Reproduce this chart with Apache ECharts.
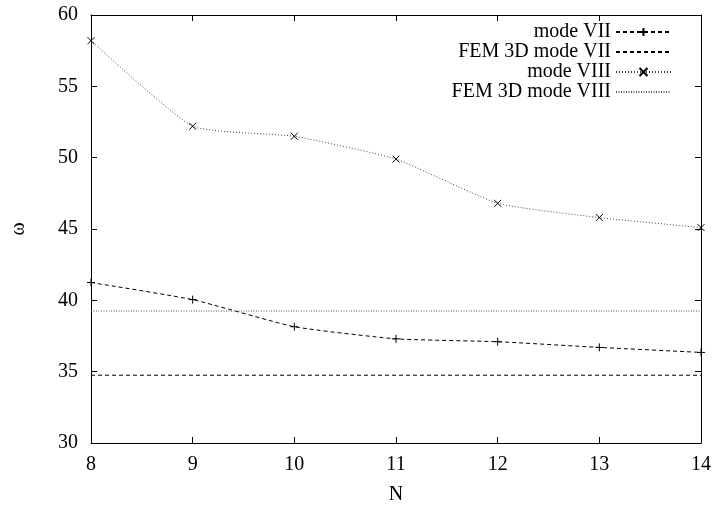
<!DOCTYPE html>
<html>
<head>
<meta charset="utf-8">
<script src="https://cdn.jsdelivr.net/npm/echarts@6/dist/echarts.min.js"></script>
<style>
  html, body { margin: 0; padding: 0; background: #fff; }
  #chart { width: 716px; height: 510px; }
</style>
</head>
<body>
<div id="chart"></div>
<script>
const nValues = [8, 9, 10, 11, 12, 13, 14];
const modeVII = [41.25, 40.05, 38.15, 37.3, 37.1, 36.7, 36.35];
const modeVIII = [58.2, 52.2, 51.5, 49.9, 46.8, 45.8, 45.1];
const femVII = 34.75;
const femVIII = 39.25;
const yTicks = [30, 35, 40, 45, 50, 55, 60];

const plusPath = 'path://M0,5L10,5M5,0L5,10';
const crossPath = 'path://M0,0L10,10M10,0L0,10';
const font = 'Liberation Serif, Times New Roman, serif';

const chart = echarts.init(document.getElementById('chart'));

const pairs = arr => nValues.map((n, i) => [n, arr[i]]);
const flat = v => [[nValues[0], v], [nValues[nValues.length - 1], v]];

const tickSide = {
  show: true,
  inside: true,
  length: 6,
  lineStyle: { color: '#000', width: 1 }
};

const option = {
  animation: false,
  grid: { left: 91, right: 15, top: 15, bottom: 65 },
  legend: {
    orient: 'vertical',
    right: 39,
    top: 17,
    align: 'right',
    itemWidth: 55,
    itemHeight: 10,
    itemGap: 0,
    textStyle: { fontFamily: font, fontSize: 20, color: '#000', lineHeight: 20 },
    data: ['mode VII', 'FEM 3D mode VII', 'mode VIII', 'FEM 3D mode VIII']
  },
  xAxis: [
    {
      type: 'value',
      min: 8,
      max: 14,
      interval: 1,
      name: 'N',
      nameLocation: 'middle',
      nameGap: 42,
      nameTextStyle: { fontFamily: font, fontSize: 20, color: '#000' },
      axisLine: { show: true, lineStyle: { color: '#000', width: 1 } },
      axisTick: tickSide,
      axisLabel: { fontFamily: font, fontSize: 20, color: '#000', margin: 12 },
      splitLine: { show: false }
    },
    {
      type: 'value',
      position: 'top',
      min: 8,
      max: 14,
      interval: 1,
      axisLine: { show: true, lineStyle: { color: '#000', width: 1 } },
      axisTick: tickSide,
      axisLabel: { show: false },
      splitLine: { show: false }
    }
  ],
  yAxis: [
    {
      type: 'value',
      min: yTicks[0],
      max: yTicks[yTicks.length - 1],
      interval: 5,
      name: 'ω',
      nameLocation: 'middle',
      nameRotate: 90,
      nameGap: 62,
      nameTextStyle: { fontFamily: font, fontSize: 20, color: '#000' },
      axisLine: { show: true, lineStyle: { color: '#000', width: 1 } },
      axisTick: tickSide,
      axisLabel: { fontFamily: font, fontSize: 20, color: '#000', margin: 13 },
      splitLine: { show: false }
    },
    {
      type: 'value',
      position: 'right',
      min: yTicks[0],
      max: yTicks[yTicks.length - 1],
      interval: 5,
      axisLine: { show: true, lineStyle: { color: '#000', width: 1 } },
      axisTick: tickSide,
      axisLabel: { show: false },
      splitLine: { show: false }
    }
  ],
  series: [
    {
      name: 'mode VII',
      type: 'line',
      data: pairs(modeVII),
      smooth: 0.15,
      symbol: plusPath,
      symbolSize: 8,
      itemStyle: { color: '#000', borderColor: '#000', borderWidth: 1 },
      lineStyle: { color: '#000', width: 1, type: [4, 3] }
    },
    {
      name: 'FEM 3D mode VII',
      type: 'line',
      data: flat(femVII),
      symbol: 'none',
      itemStyle: { color: '#000', opacity: 0 },
      lineStyle: { color: '#000', width: 1, type: [4, 3] }
    },
    {
      name: 'mode VIII',
      type: 'line',
      data: pairs(modeVIII),
      smooth: 0.15,
      symbol: crossPath,
      symbolSize: 7,
      itemStyle: { color: '#000', borderColor: '#000', borderWidth: 1 },
      lineStyle: { color: '#444', width: 1, type: [1, 2] }
    },
    {
      name: 'FEM 3D mode VIII',
      type: 'line',
      data: flat(femVIII),
      symbol: 'none',
      itemStyle: { color: '#555', opacity: 0 },
      lineStyle: { color: '#555', width: 1, type: [1, 1.5] }
    }
  ]
};

chart.setOption(option);
</script>
</body>
</html>
